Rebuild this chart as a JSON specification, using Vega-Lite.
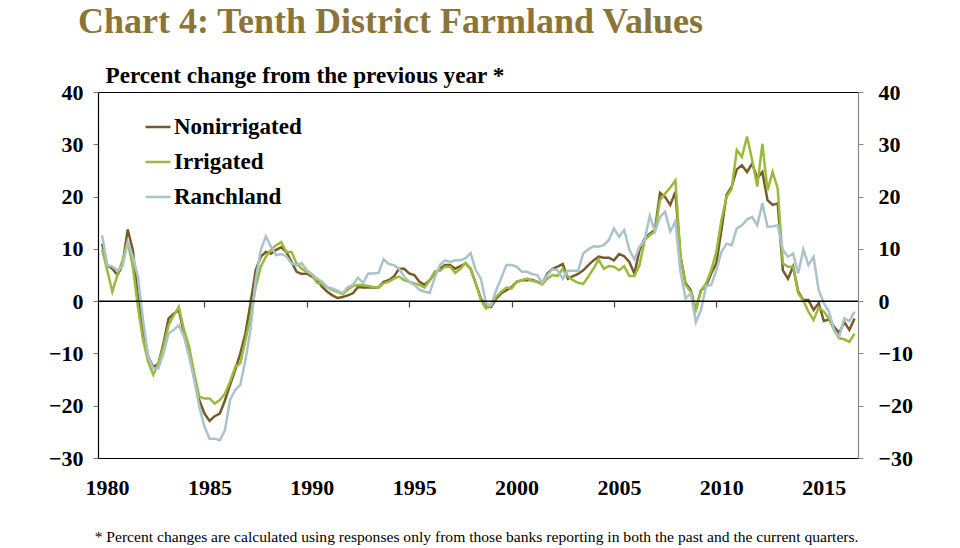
{
  "$schema": "https://vega.github.io/schema/vega-lite/v6.json",
  "width": 760,
  "height": 366,
  "autosize": {"type": "none"},
  "padding": {"left": 98, "top": 92, "right": 102, "bottom": 90},
  "background": "white",
  "title": {"text": "Chart 4: Tenth District Farmland Values", "anchor": "start", "frame": "group", "dx": -20, "offset": 22, "font": "Liberation Serif", "fontSize": 36, "fontWeight": "bold", "color": "#8A7439"},
  "config": {"view": {"stroke": "#000", "strokeWidth": 1}, "font": "Liberation Serif"},
  "data": {"values": [
    {"t":1980,"Nonirrigated":11,"Irrigated":9.9,"Ranchland":12.6},
    {"t":1980.25,"Nonirrigated":6.9,"Irrigated":5.9,"Ranchland":6.9},
    {"t":1980.5,"Nonirrigated":6.2,"Irrigated":1.8,"Ranchland":6.6},
    {"t":1980.75,"Nonirrigated":5.0,"Irrigated":5.0,"Ranchland":5.9},
    {"t":1981,"Nonirrigated":6.9,"Irrigated":7.8,"Ranchland":6.6},
    {"t":1981.25,"Nonirrigated":13.7,"Irrigated":11.3,"Ranchland":11.3},
    {"t":1981.5,"Nonirrigated":9.8,"Irrigated":6.6,"Ranchland":8.5},
    {"t":1981.75,"Nonirrigated":0.8,"Irrigated":-1.1,"Ranchland":4.7},
    {"t":1982,"Nonirrigated":-5.5,"Irrigated":-7.5,"Ranchland":-3.6},
    {"t":1982.25,"Nonirrigated":-10.6,"Irrigated":-11.6,"Ranchland":-10.6},
    {"t":1982.5,"Nonirrigated":-12.6,"Irrigated":-14.1,"Ranchland":-12.9},
    {"t":1982.75,"Nonirrigated":-12,"Irrigated":-11.9,"Ranchland":-12.9},
    {"t":1983,"Nonirrigated":-8,"Irrigated":-8.7,"Ranchland":-10},
    {"t":1983.25,"Nonirrigated":-3.3,"Irrigated":-4.6,"Ranchland":-6.2},
    {"t":1983.5,"Nonirrigated":-2.4,"Irrigated":-2.7,"Ranchland":-5.5},
    {"t":1983.75,"Nonirrigated":-1.7,"Irrigated":-1.1,"Ranchland":-4.6},
    {"t":1984,"Nonirrigated":-6.2,"Irrigated":-5.5,"Ranchland":-6.8},
    {"t":1984.25,"Nonirrigated":-10,"Irrigated":-8.7,"Ranchland":-10.6},
    {"t":1984.5,"Nonirrigated":-14.5,"Irrigated":-13.8,"Ranchland":-15.1},
    {"t":1984.75,"Nonirrigated":-19,"Irrigated":-18.3,"Ranchland":-20.2},
    {"t":1985,"Nonirrigated":-21.5,"Irrigated":-18.6,"Ranchland":-24},
    {"t":1985.25,"Nonirrigated":-22.9,"Irrigated":-18.6,"Ranchland":-26.3},
    {"t":1985.5,"Nonirrigated":-22,"Irrigated":-19.6,"Ranchland":-26.3},
    {"t":1985.75,"Nonirrigated":-21.5,"Irrigated":-18.9,"Ranchland":-26.6},
    {"t":1986,"Nonirrigated":-19,"Irrigated":-17.7,"Ranchland":-24.7},
    {"t":1986.25,"Nonirrigated":-16,"Irrigated":-15.4,"Ranchland":-18.9},
    {"t":1986.5,"Nonirrigated":-13.2,"Irrigated":-12.6,"Ranchland":-17},
    {"t":1986.75,"Nonirrigated":-10,"Irrigated":-11.9,"Ranchland":-16},
    {"t":1987,"Nonirrigated":-6.2,"Irrigated":-7.5,"Ranchland":-11.3},
    {"t":1987.25,"Nonirrigated":-0.4,"Irrigated":-3,"Ranchland":-5.5},
    {"t":1987.5,"Nonirrigated":5.9,"Irrigated":2.7,"Ranchland":4},
    {"t":1987.75,"Nonirrigated":8.5,"Irrigated":6.6,"Ranchland":9.8},
    {"t":1988,"Nonirrigated":9.4,"Irrigated":8.5,"Ranchland":12.4},
    {"t":1988.25,"Nonirrigated":9.1,"Irrigated":9.8,"Ranchland":10.4},
    {"t":1988.5,"Nonirrigated":9.8,"Irrigated":10.7,"Ranchland":8.8},
    {"t":1988.75,"Nonirrigated":10.3,"Irrigated":11.3,"Ranchland":9},
    {"t":1989,"Nonirrigated":9.4,"Irrigated":9.4,"Ranchland":8.6},
    {"t":1989.25,"Nonirrigated":7.5,"Irrigated":9.4,"Ranchland":7.2},
    {"t":1989.5,"Nonirrigated":5.6,"Irrigated":7.2,"Ranchland":6.9},
    {"t":1989.75,"Nonirrigated":5.2,"Irrigated":6.2,"Ranchland":7.3},
    {"t":1990,"Nonirrigated":5.3,"Irrigated":5.6,"Ranchland":5.9},
    {"t":1990.25,"Nonirrigated":4.7,"Irrigated":5.0,"Ranchland":5.2},
    {"t":1990.5,"Nonirrigated":4.0,"Irrigated":3.5,"Ranchland":4.3},
    {"t":1990.75,"Nonirrigated":2.7,"Irrigated":3.3,"Ranchland":3.7},
    {"t":1991,"Nonirrigated":1.8,"Irrigated":2.6,"Ranchland":2.7},
    {"t":1991.25,"Nonirrigated":1.1,"Irrigated":2.1,"Ranchland":2.4},
    {"t":1991.5,"Nonirrigated":0.6,"Irrigated":1.8,"Ranchland":2.0},
    {"t":1991.75,"Nonirrigated":0.8,"Irrigated":1.3,"Ranchland":1.5},
    {"t":1992,"Nonirrigated":1.1,"Irrigated":2.2,"Ranchland":2.7},
    {"t":1992.25,"Nonirrigated":1.5,"Irrigated":2.9,"Ranchland":3.1},
    {"t":1992.5,"Nonirrigated":2.7,"Irrigated":3.1,"Ranchland":4.5},
    {"t":1992.75,"Nonirrigated":2.6,"Irrigated":3.1,"Ranchland":3.5},
    {"t":1993,"Nonirrigated":2.6,"Irrigated":2.9,"Ranchland":5.3},
    {"t":1993.25,"Nonirrigated":2.6,"Irrigated":2.7,"Ranchland":5.3},
    {"t":1993.5,"Nonirrigated":2.6,"Irrigated":2.6,"Ranchland":5.4},
    {"t":1993.75,"Nonirrigated":3.7,"Irrigated":3.4,"Ranchland":8.0},
    {"t":1994,"Nonirrigated":4.0,"Irrigated":3.7,"Ranchland":7.1},
    {"t":1994.25,"Nonirrigated":4.7,"Irrigated":4.3,"Ranchland":6.9},
    {"t":1994.5,"Nonirrigated":6.2,"Irrigated":4.7,"Ranchland":6.2},
    {"t":1994.75,"Nonirrigated":6.2,"Irrigated":4.0,"Ranchland":4.7},
    {"t":1995,"Nonirrigated":5.3,"Irrigated":3.7,"Ranchland":3.7},
    {"t":1995.25,"Nonirrigated":5.0,"Irrigated":3.4,"Ranchland":3.1},
    {"t":1995.5,"Nonirrigated":3.7,"Irrigated":3.1,"Ranchland":2.2},
    {"t":1995.75,"Nonirrigated":3.1,"Irrigated":2.6,"Ranchland":1.8},
    {"t":1996,"Nonirrigated":4.0,"Irrigated":4.0,"Ranchland":1.6},
    {"t":1996.25,"Nonirrigated":5.3,"Irrigated":5.7,"Ranchland":4.5},
    {"t":1996.5,"Nonirrigated":6.2,"Irrigated":5.8,"Ranchland":6.9},
    {"t":1996.75,"Nonirrigated":6.9,"Irrigated":6.6,"Ranchland":7.8},
    {"t":1997,"Nonirrigated":6.9,"Irrigated":6.6,"Ranchland":7.5},
    {"t":1997.25,"Nonirrigated":6.2,"Irrigated":5.4,"Ranchland":7.8},
    {"t":1997.5,"Nonirrigated":6.7,"Irrigated":6.2,"Ranchland":7.8},
    {"t":1997.75,"Nonirrigated":7.2,"Irrigated":7.3,"Ranchland":8.2},
    {"t":1998,"Nonirrigated":6.2,"Irrigated":6.2,"Ranchland":9.2},
    {"t":1998.25,"Nonirrigated":3.4,"Irrigated":3.4,"Ranchland":5.9},
    {"t":1998.5,"Nonirrigated":0.5,"Irrigated":0.2,"Ranchland":4.3},
    {"t":1998.75,"Nonirrigated":-1.1,"Irrigated":-1.4,"Ranchland":-0.4},
    {"t":1999,"Nonirrigated":-1.1,"Irrigated":-0.8,"Ranchland":-0.8},
    {"t":1999.25,"Nonirrigated":0.5,"Irrigated":0.8,"Ranchland":2.1},
    {"t":1999.5,"Nonirrigated":1.5,"Irrigated":1.8,"Ranchland":4.5},
    {"t":1999.75,"Nonirrigated":2.1,"Irrigated":2.6,"Ranchland":6.9},
    {"t":2000,"Nonirrigated":2.7,"Irrigated":2.4,"Ranchland":6.9},
    {"t":2000.25,"Nonirrigated":3.7,"Irrigated":3.7,"Ranchland":6.6},
    {"t":2000.5,"Nonirrigated":4.0,"Irrigated":4.0,"Ranchland":5.6},
    {"t":2000.75,"Nonirrigated":4.0,"Irrigated":4.3,"Ranchland":5.6},
    {"t":2001,"Nonirrigated":4.1,"Irrigated":3.9,"Ranchland":5.2},
    {"t":2001.25,"Nonirrigated":3.7,"Irrigated":3.7,"Ranchland":5.0},
    {"t":2001.5,"Nonirrigated":3.4,"Irrigated":3.2,"Ranchland":3.5},
    {"t":2001.75,"Nonirrigated":5.3,"Irrigated":4.3,"Ranchland":5.0},
    {"t":2002,"Nonirrigated":6.2,"Irrigated":5.0,"Ranchland":6.1},
    {"t":2002.25,"Nonirrigated":6.6,"Irrigated":4.8,"Ranchland":5.9},
    {"t":2002.5,"Nonirrigated":7.1,"Irrigated":6.2,"Ranchland":4.3},
    {"t":2002.75,"Nonirrigated":4.3,"Irrigated":4.7,"Ranchland":5.8},
    {"t":2003,"Nonirrigated":4.8,"Irrigated":4.0,"Ranchland":5.8},
    {"t":2003.25,"Nonirrigated":5.2,"Irrigated":3.5,"Ranchland":5.8},
    {"t":2003.5,"Nonirrigated":5.9,"Irrigated":3.3,"Ranchland":9.1},
    {"t":2003.75,"Nonirrigated":6.9,"Irrigated":4.7,"Ranchland":9.9},
    {"t":2004,"Nonirrigated":7.8,"Irrigated":6.2,"Ranchland":10.5},
    {"t":2004.25,"Nonirrigated":8.5,"Irrigated":8.0,"Ranchland":10.4},
    {"t":2004.5,"Nonirrigated":8.3,"Irrigated":6.2,"Ranchland":10.7},
    {"t":2004.75,"Nonirrigated":8.3,"Irrigated":6.7,"Ranchland":11.7},
    {"t":2005,"Nonirrigated":7.8,"Irrigated":6.6,"Ranchland":13.9},
    {"t":2005.25,"Nonirrigated":9.0,"Irrigated":5.9,"Ranchland":12.3},
    {"t":2005.5,"Nonirrigated":8.6,"Irrigated":6.7,"Ranchland":13.6},
    {"t":2005.75,"Nonirrigated":7.5,"Irrigated":4.8,"Ranchland":9.8},
    {"t":2006,"Nonirrigated":5.3,"Irrigated":4.8,"Ranchland":8.0},
    {"t":2006.25,"Nonirrigated":9.8,"Irrigated":6.9,"Ranchland":10.4},
    {"t":2006.5,"Nonirrigated":12,"Irrigated":11.7,"Ranchland":11.7},
    {"t":2006.75,"Nonirrigated":12.9,"Irrigated":12.6,"Ranchland":16.3},
    {"t":2007,"Nonirrigated":13.6,"Irrigated":13.3,"Ranchland":13.3},
    {"t":2007.25,"Nonirrigated":20.7,"Irrigated":19.3,"Ranchland":16.1},
    {"t":2007.5,"Nonirrigated":19.9,"Irrigated":20.6,"Ranchland":17.1},
    {"t":2007.75,"Nonirrigated":18.4,"Irrigated":21.7,"Ranchland":13.3},
    {"t":2008,"Nonirrigated":20.9,"Irrigated":23.1,"Ranchland":15.2},
    {"t":2008.25,"Nonirrigated":8.5,"Irrigated":8.5,"Ranchland":5.6},
    {"t":2008.5,"Nonirrigated":3.4,"Irrigated":3.1,"Ranchland":0.5},
    {"t":2008.75,"Nonirrigated":2.1,"Irrigated":1.8,"Ranchland":1.5},
    {"t":2009,"Nonirrigated":-1.7,"Irrigated":-1.7,"Ranchland":-4.0},
    {"t":2009.25,"Nonirrigated":2.1,"Irrigated":2.0,"Ranchland":-1.7},
    {"t":2009.5,"Nonirrigated":2.9,"Irrigated":3.4,"Ranchland":2.9},
    {"t":2009.75,"Nonirrigated":5.3,"Irrigated":5.9,"Ranchland":3.1},
    {"t":2010,"Nonirrigated":7.2,"Irrigated":9.4,"Ranchland":5.9},
    {"t":2010.25,"Nonirrigated":13.6,"Irrigated":15.5,"Ranchland":9.4},
    {"t":2010.5,"Nonirrigated":20.3,"Irrigated":19.9,"Ranchland":11},
    {"t":2010.75,"Nonirrigated":21.9,"Irrigated":21.5,"Ranchland":10.7},
    {"t":2011,"Nonirrigated":25.2,"Irrigated":28.9,"Ranchland":13.9},
    {"t":2011.25,"Nonirrigated":26,"Irrigated":27.6,"Ranchland":14.5},
    {"t":2011.5,"Nonirrigated":24.7,"Irrigated":31.5,"Ranchland":15.6},
    {"t":2011.75,"Nonirrigated":26.3,"Irrigated":27,"Ranchland":16.1},
    {"t":2012,"Nonirrigated":23.5,"Irrigated":21.9,"Ranchland":14.5},
    {"t":2012.25,"Nonirrigated":24.7,"Irrigated":30.1,"Ranchland":18.7},
    {"t":2012.5,"Nonirrigated":19.3,"Irrigated":21.2,"Ranchland":14.2},
    {"t":2012.75,"Nonirrigated":18.4,"Irrigated":24.7,"Ranchland":14.3},
    {"t":2013,"Nonirrigated":18.7,"Irrigated":21.5,"Ranchland":14.5},
    {"t":2013.25,"Nonirrigated":5.9,"Irrigated":7.2,"Ranchland":9.8},
    {"t":2013.5,"Nonirrigated":4.3,"Irrigated":6.6,"Ranchland":8.5},
    {"t":2013.75,"Nonirrigated":6.6,"Irrigated":6.6,"Ranchland":9.1},
    {"t":2014,"Nonirrigated":1.8,"Irrigated":1.5,"Ranchland":5.3},
    {"t":2014.25,"Nonirrigated":0.2,"Irrigated":0.1,"Ranchland":9.9},
    {"t":2014.5,"Nonirrigated":0.2,"Irrigated":-2,"Ranchland":6.9},
    {"t":2014.75,"Nonirrigated":-1.7,"Irrigated":-3.6,"Ranchland":8.5},
    {"t":2015,"Nonirrigated":-0.4,"Irrigated":-1.2,"Ranchland":2.1},
    {"t":2015.25,"Nonirrigated":-3.8,"Irrigated":-2,"Ranchland":-0.4},
    {"t":2015.5,"Nonirrigated":-3.5,"Irrigated":-3.3,"Ranchland":-2.0},
    {"t":2015.75,"Nonirrigated":-4.9,"Irrigated":-5.5,"Ranchland":-5.5},
    {"t":2016,"Nonirrigated":-6.1,"Irrigated":-7.1,"Ranchland":-6.8},
    {"t":2016.25,"Nonirrigated":-4.0,"Irrigated":-7.3,"Ranchland":-3.3},
    {"t":2016.5,"Nonirrigated":-5.5,"Irrigated":-7.8,"Ranchland":-3.8},
    {"t":2016.75,"Nonirrigated":-3.3,"Irrigated":-6.2,"Ranchland":-2.0}
  ]},
  "layer": [
    {
      "transform": [{"fold": ["Nonirrigated", "Irrigated", "Ranchland"], "as": ["series", "value"]}],
      "mark": {"type": "line", "strokeWidth": 2.5},
      "encoding": {
        "x": {"field": "t", "type": "quantitative",
          "scale": {"domain": [1979.8, 2016.92], "nice": false, "zero": false},
          "axis": {"orient": "bottom", "offset": -157, "values": [1980, 1985, 1990, 1995, 2000, 2005, 2010, 2015], "format": "d",
            "domain": false, "grid": false, "ticks": true, "tickSize": 6, "tickColor": "#444", "tickWidth": 1.2,
            "tickOpacity": {"condition": {"test": "datum.value == 1980", "value": 0}, "value": 1},
            "labelPadding": 170, "labelFont": "Liberation Serif", "labelFontSize": 22, "labelFontWeight": "bold", "labelColor": "#000", "labelOffset": 5,
            "title": "* Percent changes are calculated using responses only from those banks reporting in both the past and the current quarters.",
            "titleFont": "Liberation Serif", "titleFontSize": 15.6, "titleFontWeight": "normal", "titleColor": "#000", "titleAnchor": "end", "titlePadding": 31}},
        "y": {"field": "value", "type": "quantitative",
          "scale": {"domain": [-30, 40], "nice": false},
          "axis": {"orient": "left", "values": [-30, -20, -10, 0, 10, 20, 30, 40], "grid": false,
            "domainColor": "#000", "domainWidth": 1.2, "tickColor": "#777", "tickSize": 5, "labelPadding": 10,
            "labelFont": "Liberation Serif", "labelFontSize": 22, "labelFontWeight": "bold", "labelColor": "#000",
            "title": "Percent change from the previous year *", "titleAngle": 0, "titleAlign": "left", "titleBaseline": "alphabetic",
            "titleX": 7, "titleY": -10, "titleFont": "Liberation Serif", "titleFontSize": 23.2, "titleFontWeight": "bold", "titleColor": "#000"}},
        "color": {"field": "series", "type": "nominal",
          "scale": {"domain": ["Nonirrigated", "Irrigated", "Ranchland"], "range": ["#765A2A", "#9BBA3A", "#A9C3CA"]},
          "legend": {"orient": "none", "legendX": 46, "legendY": 21, "title": null, "symbolType": "stroke", "symbolSize": 625, "symbolStrokeWidth": 2.5,
            "labelFont": "Liberation Serif", "labelFontSize": 23, "labelFontWeight": "bold", "labelColor": "#000", "rowPadding": 9, "labelOffset": 2}}
      }
    },
    {
      "data": {"values": [{}]},
      "mark": {"type": "rule", "color": "#000", "strokeWidth": 1.5},
      "encoding": {
        "y": {"datum": 0, "type": "quantitative",
          "axis": {"orient": "right", "values": [-30, -20, -10, 0, 10, 20, 30, 40], "grid": false,
            "domainColor": "#888", "domainWidth": 1.2, "tickColor": "#888", "tickSize": 5, "labelPadding": 15,
            "labelFont": "Liberation Serif", "labelFontSize": 22, "labelFontWeight": "bold", "labelColor": "#000", "title": null}}
      }
    }
  ],
  "resolve": {"axis": {"y": "independent"}}
}
